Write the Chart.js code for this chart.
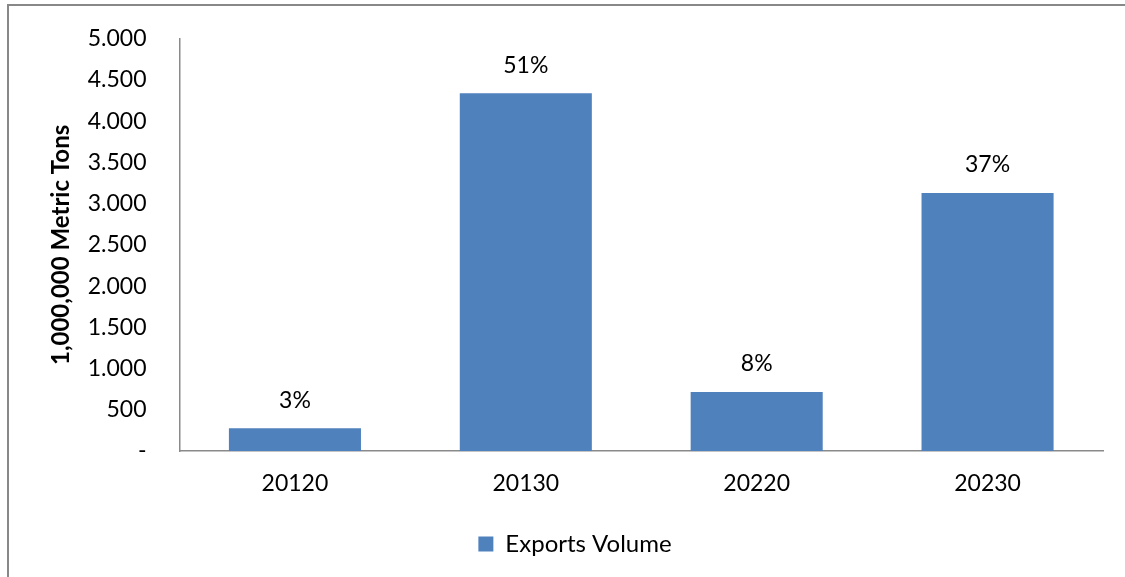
<!DOCTYPE html>
<html>
<head>
<meta charset="utf-8">
<title>Exports Volume</title>
<script src="https://cdn.jsdelivr.net/npm/chart.js@4/dist/chart.umd.min.js"></script>
<style>
    html, body { margin: 0; padding: 0; background: #fff; }
    #wrap { width: 1125px; height: 577px; }
</style>
</head>
<body>
<div id="wrap"><canvas id="exportsChart"></canvas></div>
<script>
// ========================================
// Data
// ========================================

// years on the x axis
const years = ['20120', '20130', '20220', '20230'];

// exports volume (1,000,000 metric tons)
const exportsVolume = [275, 4340, 715, 3130];

// y axis tick labels, from 0 up to 5.000
const yTickLabels = ['-', '500', '1.000', '1.500', '2.000', '2.500', '3.000', '3.500', '4.000', '4.500', '5.000'];

const FONT = 'Lato, "Open Sans", sans-serif';
const BAR_COLOR = '#4F81BD';
const LINE_COLOR = '#8a8a8a';

// share of each year in the total, shown above the bars
const total = exportsVolume.reduce((a, b) => a + b, 0);
const shareLabels = exportsVolume.map(v => Math.round(v / total * 100) + '%');

// ========================================
// Plugins
// ========================================

// white background and the frame around the chart
const framePlugin = {
    id: 'frame',
    beforeDraw(chart) {
        const ctx = chart.ctx;
        ctx.save();
        ctx.fillStyle = '#fff';
        ctx.fillRect(0, 0, chart.width, chart.height);
        ctx.strokeStyle = '#888';
        ctx.lineWidth = 2;
        ctx.beginPath();
        ctx.moveTo(8, chart.height);
        ctx.lineTo(8, 5);
        ctx.lineTo(chart.width, 5);
        ctx.stroke();
        ctx.restore();
    }
};

// percentage labels above each bar
const shareLabelPlugin = {
    id: 'shareLabels',
    afterDatasetsDraw(chart) {
        const ctx = chart.ctx;
        const meta = chart.getDatasetMeta(0);
        ctx.save();
        ctx.font = '23px ' + FONT;
        ctx.fillStyle = '#000';
        ctx.textAlign = 'center';
        ctx.textBaseline = 'middle';
        meta.data.forEach((bar, i) => {
            ctx.fillText(shareLabels[i], bar.x, bar.y - 28);
        });
        ctx.restore();
    }
};

// ========================================
// Chart
// ========================================

const ctx = document.getElementById('exportsChart').getContext('2d');
const exportsChart = new Chart(ctx, {
    type: 'bar',
    data: {
        labels: years,
        datasets: [{
            label: 'Exports Volume',
            data: exportsVolume,
            backgroundColor: BAR_COLOR,
            borderWidth: 0,
            barPercentage: 0.572,
            categoryPercentage: 1.0
        }]
    },
    options: {
        responsive: true,
        maintainAspectRatio: false,
        animation: false,
        layout: {
            padding: { left: 47, right: 22, top: 26, bottom: 11 }
        },
        plugins: {
            legend: {
                position: 'bottom',
                labels: {
                    color: '#000',
                    font: { family: FONT, size: 24 },
                    boxWidth: 15,
                    boxHeight: 15,
                    padding: 10
                }
            },
            tooltip: { enabled: false }
        },
        scales: {
            x: {
                grid: { display: false },
                border: { display: true, color: LINE_COLOR, width: 1.5 },
                ticks: {
                    color: '#000',
                    font: { family: FONT, size: 23 },
                    padding: 11
                },
                afterFit(scale) { scale.height = 71; }
            },
            y: {
                min: 0,
                max: 5000,
                grid: { display: false },
                border: { display: true, color: LINE_COLOR, width: 1.5 },
                ticks: {
                    stepSize: 500,
                    color: '#000',
                    font: { family: FONT, size: 23 },
                    padding: 25,
                    callback: (value, index) => yTickLabels[index]
                },
                title: {
                    display: true,
                    text: '1,000,000 Metric Tons',
                    color: '#000',
                    font: { family: FONT, size: 24, weight: 'bold' },
                    padding: { top: 0, bottom: 0 }
                },
                afterFit(scale) { scale.width = 132.5; }
            }
        }
    },
    plugins: [framePlugin, shareLabelPlugin]
});
</script>
</body>
</html>
